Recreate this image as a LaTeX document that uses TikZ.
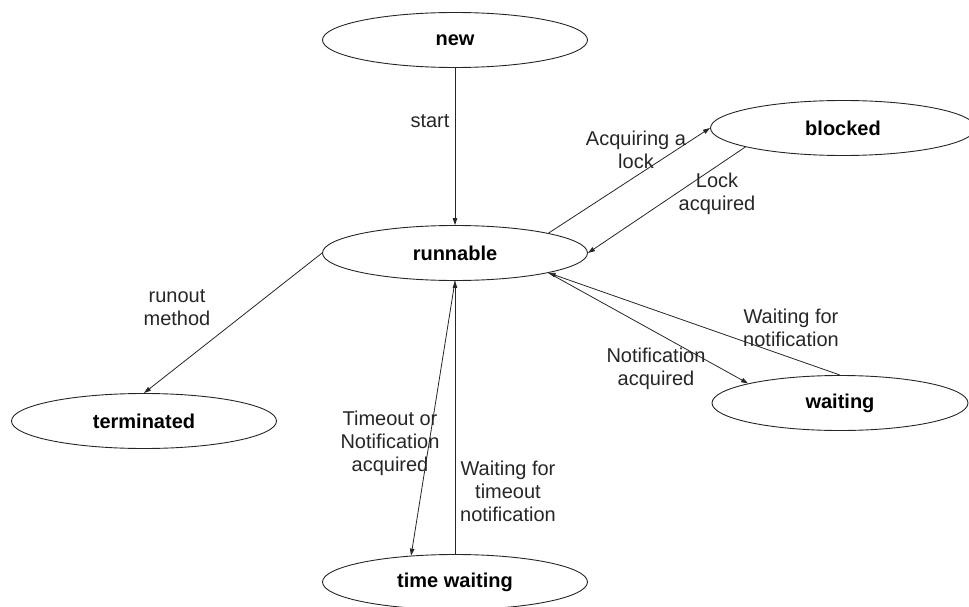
\documentclass[tikz,border=0pt]{standalone}
\usepackage{fontspec}
\setmainfont{Liberation Sans}
\usetikzlibrary{arrows.meta,shapes.geometric}

\begin{document}
\begin{tikzpicture}[x=1pt,y=-1pt,
  tstate/.style={draw=black!85,ellipse,line width=0.9pt,minimum width=265pt,minimum height=55pt,inner sep=0pt,font=\fontsize{20}{23}\selectfont\bfseries},
  tlabel/.style={align=center,inner sep=0pt,font=\fontsize{20}{23}\selectfont,text=black!85},
  tedge/.style={draw=black!85,line width=0.8pt,-{Triangle[length=7pt,width=4.5pt]}}]
\useasboundingbox (0,0) rectangle (969,607);
% states
\node[tstate] (new) at (455,40) {new};
\node[tstate] (runnable) at (455,253) {runnable};
\node[tstate] (blocked) at (843,128) {blocked};
\node[tstate] (terminated) at (144,421) {terminated};
\node[tstate,minimum width=256pt] (waiting) at (840,403) {waiting};
\node[tstate] (twait) at (455,582) {time waiting};
% transitions
\draw[tedge] (new.south) -- (runnable.north);
\node[tlabel] (lstart) at (430,121) {start};
\draw[tedge] (runnable.12) -- (blocked.180);
\node[tlabel] (lacq) at (636,150) {Acquiring a\\lock};
\draw[tedge] (blocked.191.5) -- (runnable.0);
\node[tlabel] (llock) at (717,194) {Lock\\acquired};
\draw[tedge] (waiting.north) -- (runnable.-12);
\node[tlabel] (lwnot) at (791,328) {Waiting for\\notification};
\draw[tedge] (runnable.-12) -- (waiting.168);
\node[tlabel] (lnacq) at (656,369) {Notification\\acquired};
\draw[tedge] (runnable.west) -- (terminated.north);
\node[tlabel] (lrun) at (177,308) {runout\\method};
\draw[tedge] (runnable.south) -- (twait.149);
\node[tlabel] (ltime) at (390,443) {Timeout or\\Notification\\acquired};
\draw[tedge] (twait.north) -- (runnable.south);
\node[tlabel] (lwtime) at (508,491) {Waiting for\\timeout\\notification};
\end{tikzpicture}
\end{document}
